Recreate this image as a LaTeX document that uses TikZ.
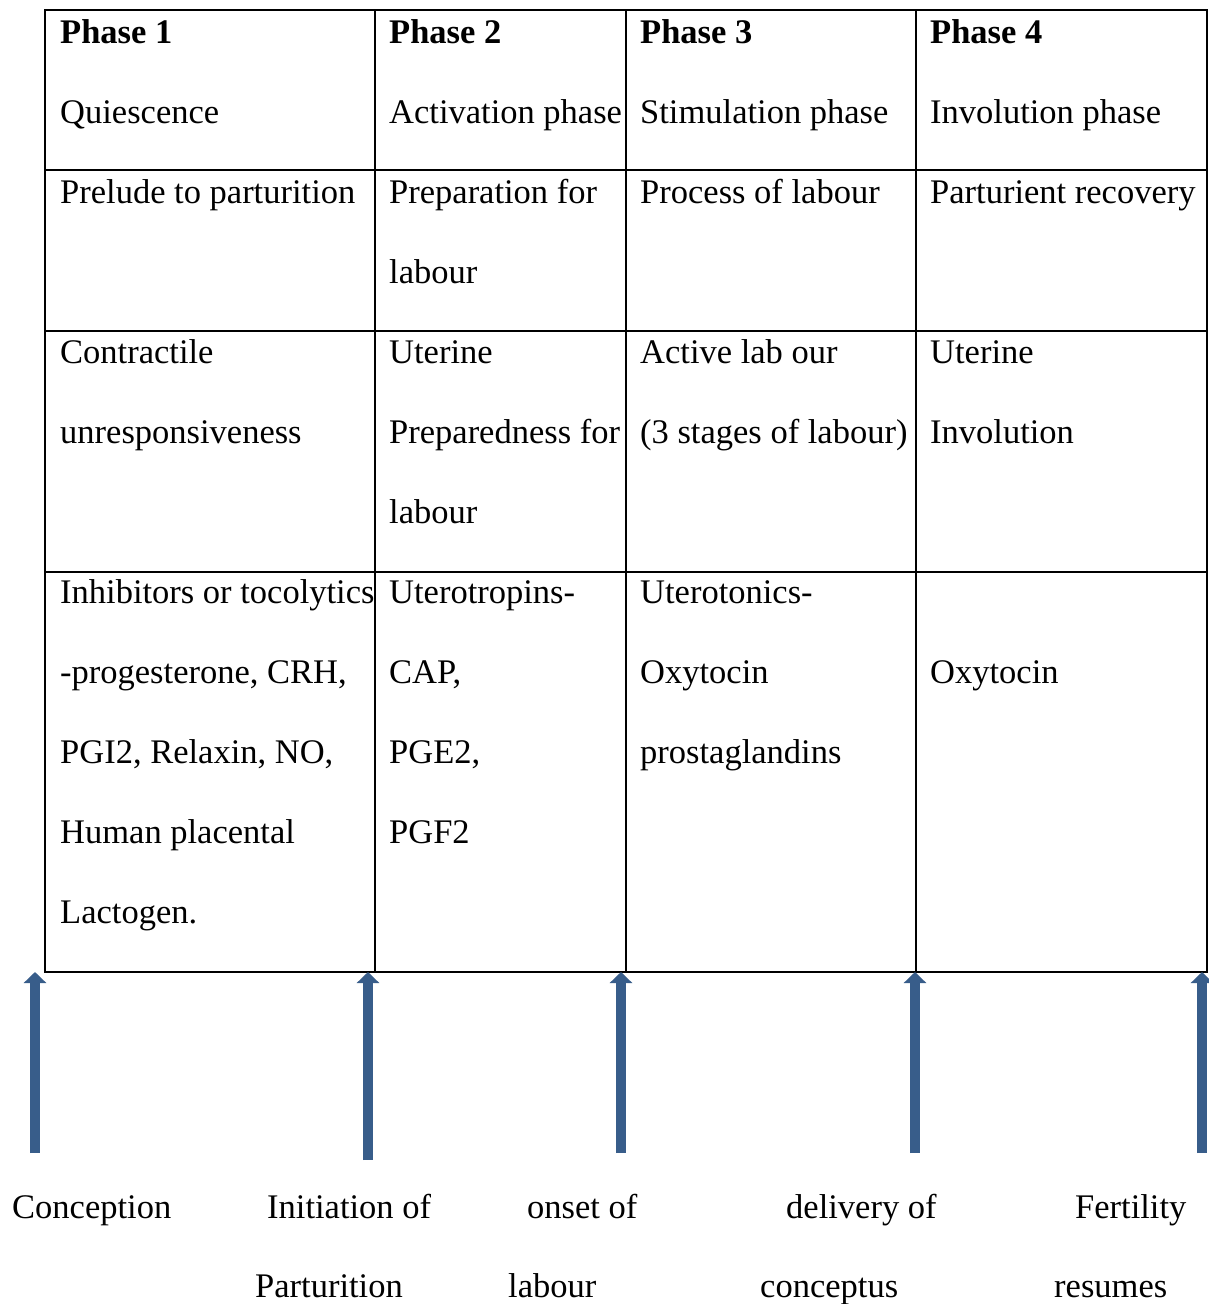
\documentclass[tikz,border=0pt]{standalone}
\usepackage{fontspec}
\setmainfont{Liberation Serif}
\usetikzlibrary{arrows.meta}
\definecolor{arrowblue}{RGB}{56,93,138}
\begin{document}
\begin{tikzpicture}[x=1pt,y=-1pt,
  txt/.style={inner sep=0pt,anchor=base west,font=\fontsize{34.5}{36}\selectfont},
  grid/.style={line width=2.2pt,black},
  uparrow/.style={line width=10pt,arrowblue,-{Triangle[width=22pt,length=11pt]}}]
\useasboundingbox (0,0) rectangle (1209,1304);
% table grid
\draw[grid] (45,10) rectangle (1207,972);
\foreach \xx in {375,626,916} \draw[grid] (\xx,10) -- (\xx,972);
\foreach \yy in {170,331,572} \draw[grid] (45,\yy) -- (1207,\yy);
% column 1
\node[txt] (c1a) at (60,43) {\textbf{Phase 1}};
\node[txt] (c1b) at (60,123) {Quiescence};
\node[txt] (c1c) at (60,203) {Prelude to parturition};
\node[txt] (c1d) at (60,363) {Contractile};
\node[txt] (c1e) at (60,443) {unresponsiveness};
\node[txt] (c1f) at (60,603) {Inhibitors or tocolytics};
\node[txt] (c1g) at (60,683) {-progesterone, CRH,};
\node[txt] (c1h) at (60,763) {PGI2, Relaxin, NO,};
\node[txt] (c1i) at (60,843) {Human placental};
\node[txt] (c1j) at (60,923) {Lactogen.};
% column 2
\node[txt] (c2a) at (389,43) {\textbf{Phase 2}};
\node[txt] (c2b) at (389,123) {Activation phase};
\node[txt] (c2c) at (389,203) {Preparation for};
\node[txt] (c2d) at (389,283) {labour};
\node[txt] (c2e) at (389,363) {Uterine};
\node[txt] (c2f) at (389,443) {Preparedness for};
\node[txt] (c2g) at (389,523) {labour};
\node[txt] (c2h) at (389,603) {Uterotropins-};
\node[txt] (c2i) at (389,683) {CAP,};
\node[txt] (c2j) at (389,763) {PGE2,};
\node[txt] (c2k) at (389,843) {PGF2};
% column 3
\node[txt] (c3a) at (640,43) {\textbf{Phase 3}};
\node[txt] (c3b) at (640,123) {Stimulation phase};
\node[txt] (c3c) at (640,203) {Process of labour};
\node[txt] (c3d) at (640,363) {Active lab our};
\node[txt] (c3e) at (640,443) {(3 stages of labour)};
\node[txt] (c3f) at (640,603) {Uterotonics-};
\node[txt] (c3g) at (640,683) {Oxytocin};
\node[txt] (c3h) at (640,763) {prostaglandins};
% column 4
\node[txt] (c4a) at (930,43) {\textbf{Phase 4}};
\node[txt] (c4b) at (930,123) {Involution phase};
\node[txt] (c4c) at (930,203) {Parturient recovery};
\node[txt] (c4d) at (930,363) {Uterine};
\node[txt] (c4e) at (930,443) {Involution};
\node[txt] (c4f) at (930,683) {Oxytocin};
% arrows
\coordinate (a1s) at (35,1153);  \coordinate (a1e) at (35,972);
\coordinate (a2s) at (368,1160); \coordinate (a2e) at (368,972);
\coordinate (a3s) at (621,1153); \coordinate (a3e) at (621,972);
\coordinate (a4s) at (915,1153); \coordinate (a4e) at (915,972);
\coordinate (a5s) at (1202,1153);\coordinate (a5e) at (1202,972);
\foreach \i in {1,...,5} \draw[uparrow] (a\i s) -- (a\i e);
% bottom labels
\node[txt] (b1) at (12,1218) {Conception};
\node[txt] (b2a) at (267,1218) {Initiation of};
\node[txt] (b2b) at (255,1297) {Parturition};
\node[txt] (b3a) at (527,1218) {onset of};
\node[txt] (b3b) at (508,1297) {labour};
\node[txt] (b4a) at (786,1218) {delivery of};
\node[txt] (b4b) at (760,1297) {conceptus};
\node[txt] (b5a) at (1075,1218) {Fertility};
\node[txt] (b5b) at (1054,1297) {resumes};
\end{tikzpicture}
\end{document}
